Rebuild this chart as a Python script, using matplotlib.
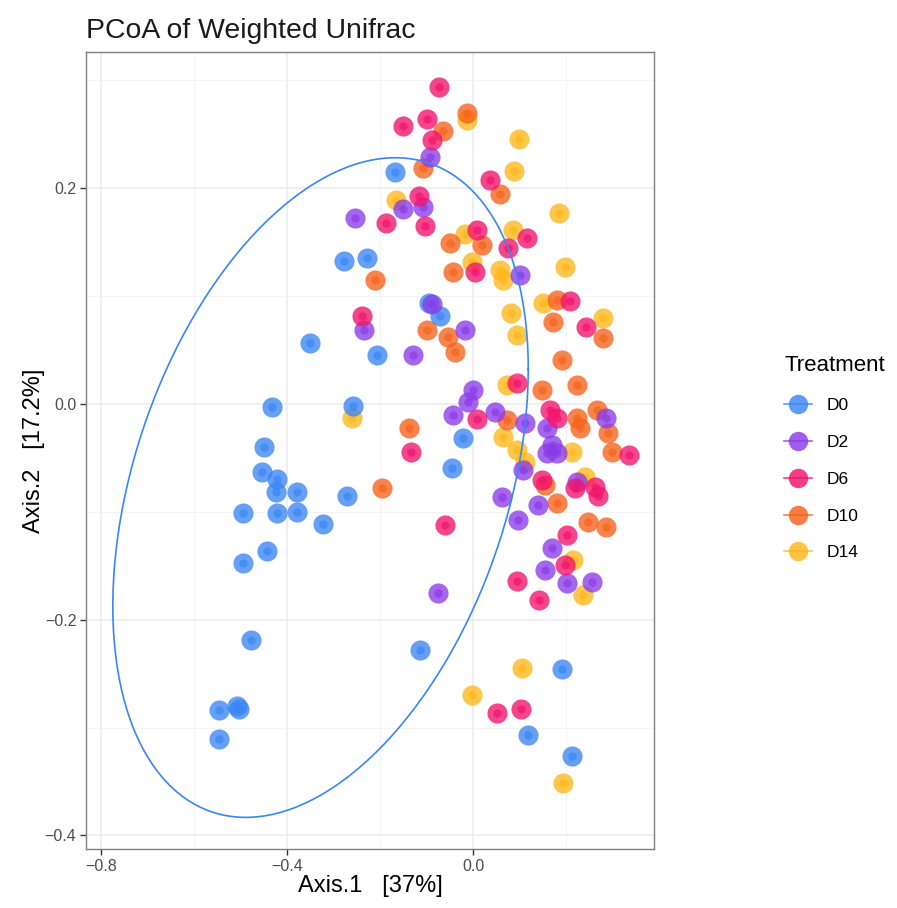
import numpy as np
import matplotlib
matplotlib.use("Agg")
import matplotlib.pyplot as plt
from matplotlib.lines import Line2D
from matplotlib.ticker import MultipleLocator

plt.rcParams['font.family'] = ['Liberation Sans', 'DejaVu Sans']

# PCoA coordinates (Axis.1, Axis.2) per treatment group
d0_x = [-0.168, -0.278, -0.229, -0.095, -0.0716, -0.351, -0.2075, -0.4315, -0.259,
        -0.4487, -0.4543, -0.422, -0.4236, -0.379, -0.4938, -0.422, -0.378, -0.322,
        -0.2718, -0.4436, -0.4938, -0.478, -0.5453, -0.508, -0.502, -0.5453,
        -0.0215, -0.0464, -0.1144, 0.190, 0.118, 0.2125]
d0_y = [0.2154, 0.1326, 0.1354, 0.0938, 0.0813, 0.0566, 0.0454, -0.003, -0.0019,
        -0.0402, -0.0628, -0.070, -0.0813, -0.0813, -0.1014, -0.1014, -0.0998, -0.1116,
        -0.085, -0.1363, -0.1477, -0.2188, -0.2837, -0.280, -0.283, -0.311,
        -0.0318, -0.0596, -0.228, -0.2457, -0.3069, -0.3264]

d2_x = [-0.255, -0.093, -0.150, -0.107, -0.235, -0.088, -0.018, -0.129, 0.100, 0.000,
        -0.011, -0.043, 0.0466, 0.111, 0.286, 0.1576, 0.168, 0.1576, 0.179, 0.107,
        0.222, 0.061, 0.1396, 0.0966, 0.168, 0.154, 0.2005, 0.254, -0.075]
d2_y = [0.172, 0.229, 0.1805, 0.183, 0.0686, 0.093, 0.0686, 0.0454, 0.1196, 0.013,
        0.002, -0.0102, -0.0071, -0.0179, -0.0133, -0.0225, -0.038, -0.0457, -0.0457, -0.0612,
        -0.072, -0.0859, -0.0937, -0.1076, -0.1338, -0.154, -0.1662, -0.1647, -0.1755]

d6_x = [-0.0736, -0.150, -0.100, -0.089, 0.036, -0.116, -0.188, -0.104, 0.007, 0.115,
        0.075, 0.004, -0.240, 0.2076, 0.243, 0.093, 0.009, 0.1647, 0.179, 0.335,
        0.147, 0.218, 0.261, 0.268, 0.2005, 0.197, 0.0945, 0.141, -0.061, -0.134,
        0.0515, 0.1024]
d6_y = [0.2937, 0.258, 0.264, 0.245, 0.2077, 0.1929, 0.168, 0.165, 0.1613, 0.1536,
        0.1443, 0.1227, 0.0816, 0.0958, 0.0717, 0.0192, -0.0142, -0.0056, -0.0133, -0.0473,
        -0.0705, -0.0782, -0.0767, -0.085, -0.1215, -0.1493, -0.1638, -0.1817, -0.1122, -0.0442,
        -0.2868, -0.2828]

d10_x = [-0.013, -0.064, -0.107, 0.057, -0.211, -0.050, 0.018, -0.043, -0.100, -0.054,
         -0.039, 0.179, 0.172, 0.279, 0.190, 0.147, 0.222, 0.0717, 0.222, 0.229,
         0.265, 0.290, 0.297, 0.154, 0.179, 0.247, 0.285, -0.137, -0.197]
d10_y = [0.2695, 0.253, 0.2185, 0.195, 0.115, 0.1496, 0.1474, 0.1227, 0.0686, 0.0624,
         0.0485, 0.0964, 0.0763, 0.0609, 0.0408, 0.013, 0.0176, -0.0148, -0.0133, -0.0225,
         -0.0056, -0.0266, -0.0442, -0.075, -0.0915, -0.109, -0.1137, -0.0225, -0.0782]

d14_x = [-0.013, 0.099, 0.087, -0.166, 0.184, 0.086, -0.018, -0.003, 0.057, 0.064,
         0.197, 0.082, 0.093, 0.150, 0.278, 0.0717, 0.064, 0.093, 0.111, 0.211,
         0.240, 0.2147, 0.236, -0.261, 0.104, -0.0034, 0.192]
d14_y = [0.263, 0.2454, 0.2163, 0.189, 0.1774, 0.1613, 0.158, 0.132, 0.124, 0.115,
         0.1267, 0.0841, 0.064, 0.0934, 0.0795, 0.0176, -0.0303, -0.0427, -0.0535, -0.0442,
         -0.0674, -0.1446, -0.177, -0.0133, -0.245, -0.2698, -0.3511]

groups = ["D0", "D2", "D6", "D10", "D14"]
colors = {"D0": "#3a86f4", "D2": "#8a3be8", "D6": "#f2126c", "D10": "#f6621a", "D14": "#fdb71a"}
coords = {"D0": (d0_x, d0_y), "D2": (d2_x, d2_y), "D6": (d6_x, d6_y),
          "D10": (d10_x, d10_y), "D14": (d14_x, d14_y)}

# 95% ellipse for D0: centre, half-extents on each axis, correlation
ell_center = (-0.328, -0.0775)
ell_half = (0.446, 0.3058)
ell_corr = 0.36

fig = plt.figure(figsize=(8.97, 9.08), dpi=100)
ax = fig.add_axes([0.0959, 0.065, 0.6332, 0.8778])

ax.set_xlim(-0.8315, 0.388)
ax.set_ylim(-0.4126, 0.3264)
ax.xaxis.set_major_locator(MultipleLocator(0.4))
ax.xaxis.set_minor_locator(MultipleLocator(0.2))
ax.yaxis.set_major_locator(MultipleLocator(0.2))
ax.yaxis.set_minor_locator(MultipleLocator(0.1))
ax.grid(which='major', color='#ebebeb', linewidth=1.1, zorder=0)
ax.grid(which='minor', color='#f3f3f3', linewidth=0.6, zorder=0)
ax.set_axisbelow(True)

for s in ax.spines.values():
    s.set_color('#7f7f7f')
    s.set_linewidth(1.0)
ax.tick_params(which='major', length=4, width=1, color='#333333',
               labelsize=11.5, labelcolor='#4d4d4d', pad=3)
ax.tick_params(which='minor', length=0)
fmt = lambda v, p: f"{v:.1f}".replace('-', '\u2212').replace('\u22120.0', '0.0')
ax.xaxis.set_major_formatter(fmt)
ax.yaxis.set_major_formatter(fmt)

draw_order = ["D14", "D10", "D0", "D2", "D6"]
for g in draw_order:
    x, y = coords[g]
    ax.scatter(x, y, s=210, color=colors[g], alpha=0.78, linewidths=0, zorder=3)
    ax.scatter(x, y, s=36, color=colors[g], alpha=0.7, linewidths=0, zorder=3)

# ellipse outline
t = np.linspace(0, 2 * np.pi, 300)
sx, sy = ell_half
cov = np.array([[sx * sx, ell_corr * sx * sy], [ell_corr * sx * sy, sy * sy]])
L = np.linalg.cholesky(cov)
pts = L @ np.vstack([np.cos(t), np.sin(t)])
ax.plot(pts[0] + ell_center[0], pts[1] + ell_center[1], color=colors["D0"],
        linewidth=1.2, zorder=4)

ax.set_title("PCoA of Weighted Unifrac", loc='left', fontsize=20.4, pad=10, color='#1a1a1a')
ax.set_xlabel("Axis.1   [37%]", fontsize=17, labelpad=1)
ax.set_ylabel("Axis.2   [17.2%]", fontsize=17, labelpad=0)

handles = [Line2D([], [], color=colors[g], marker='o', markersize=14, alpha=0.82,
                  linewidth=1.2, markeredgewidth=0) for g in groups]
leg = fig.legend(handles, groups, title="Treatment", loc='upper left',
                 bbox_to_anchor=(0.857, 0.626), frameon=False, fontsize=12.5,
                 title_fontsize=16, handlelength=1.6, labelspacing=1.25,
                 handletextpad=0.85, alignment='left')

fig.savefig("out.png", dpi=100, facecolor='white')
